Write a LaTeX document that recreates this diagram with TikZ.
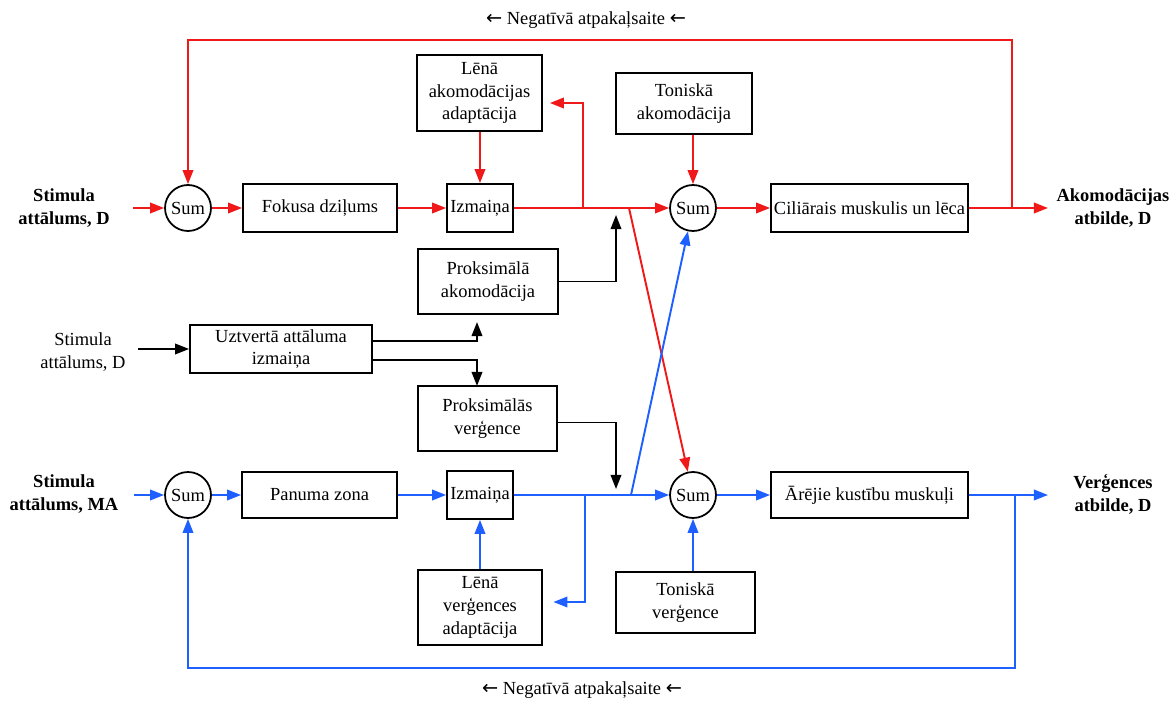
\documentclass[tikz,border=0pt]{standalone}
\usepackage{fontspec}
\setmainfont{Liberation Serif}
\newfontfamily\arrfont{DejaVu Sans}
\usetikzlibrary{arrows.meta,calc}
\definecolor{fbred}{RGB}{240,25,25}
\definecolor{fbblue}{RGB}{30,95,255}
\newcommand\dfont{\fontsize{10.5}{13}\selectfont}
\newcommand\larr{{\arrfont\fontsize{11}{13}\selectfont ←}}
\newcommand\pbox[6]{\node[blockbox,minimum width={(#4-#2)*0.02cm},minimum height={(#5-#3)*0.02cm}] (#1) at ({(#2+#4)/2},{(#3+#5)/2}) {#6};}
\tikzset{
  blockbox/.style={draw,line width=1pt,inner sep=0pt,align=center,font=\dfont},
  sumnode/.style={draw,circle,line width=1pt,minimum size=0.92cm,inner sep=0pt,font=\dfont},
  lbl/.style={align=center,font=\dfont\bfseries,inner sep=1pt},
  plainlbl/.style={align=center,font=\dfont,inner sep=1pt},
  tip/.style={-{Triangle[length=8pt,width=6pt]}},
  ra/.style={draw=fbred,line width=1.1pt,tip},
  ba/.style={draw=fbblue,line width=1.1pt,tip},
  ka/.style={draw=black,line width=1.1pt,tip},
}
\begin{document}
\begin{tikzpicture}[x=0.02cm,y=-0.02cm]
\useasboundingbox (0,0) rectangle (1172,702);
% sums
\node[sumnode] (s1) at (188,208) {Sum};
\node[sumnode] (s2) at (693,208) {Sum};
\node[sumnode] (s3) at (693,495) {Sum};
\node[sumnode] (s4) at (188,495) {Sum};
% boxes
\pbox{fok}{243}{184}{397}{232}{Fokusa dziļums}
\pbox{izm1}{447}{184}{513}{232}{Izmaiņa}
\pbox{lena}{417}{55}{542}{131}{Lēnā\\akomodācijas\\adaptācija}
\pbox{tonak}{616}{73}{752}{134}{Toniskā\\akomodācija}
\pbox{cil}{771}{184}{968}{232}{Ciliārais muskulis un lēca}
\pbox{prak}{418}{249}{558}{314}{Proksimālā\\akomodācija}
\pbox{uzt}{190}{325}{372}{373}{Uztvertā attāluma\\izmaiņa}
\pbox{pv}{418}{386}{557}{451}{Proksimālās\\verģence}
\pbox{pan}{242}{472}{397}{518}{Panuma zona}
\pbox{izm2}{447}{471}{513}{519}{Izmaiņa}
\pbox{lenv}{418}{570}{542}{645}{Lēnā\\verģences\\adaptācija}
\pbox{tonv}{616}{572}{755}{633}{Toniskā\\verģence}
\pbox{are}{771}{472}{968}{518}{Ārējie kustību muskuļi}
% labels
\node[lbl] (l1) at (64,208) {Stimula\\attālums, D};
\node[plainlbl] (l2) at (83,352) {Stimula\\attālums, D};
\node[lbl] (l3) at (64,494) {Stimula\\attālums, MA};
\node[lbl] (r1) at (1113,208) {Akomodācijas\\atbilde, D};
\node[lbl] (r2) at (1113,494) {Verģences\\atbilde, D};
\node[plainlbl] (t1) at (586,20) {\larr{} Negatīvā atpakaļsaite \larr};
\node[plainlbl] (t2) at (582,690) {\larr{} Negatīvā atpakaļsaite \larr};
% coordinates
\coordinate (in1) at (133,208);
\coordinate (in2) at (138,349);
\coordinate (in4) at (134,495);
\coordinate (out1) at (1048,208);
\coordinate (out2) at (1048,495);
\coordinate (j1) at (583,208);
\coordinate (j1t) at (583,103);
\coordinate (j2) at (629,208);
\coordinate (j3) at (1012,208);
\coordinate (fbt) at (600,40);
\coordinate (j4) at (585,495);
\coordinate (j4b) at (585,602);
\coordinate (j5) at (631,495);
\coordinate (j6) at (1015,495);
\coordinate (fbb) at (600,668);
\coordinate (k1) at (616,215);
\coordinate (k2) at (616,489);
\coordinate (u1) at (477,322);
\coordinate (u2) at (477,386);
% red
\draw[ra] (in1) -- (s1);
\draw[ra] (s1) -- (fok);
\draw[ra] (fok) -- (izm1);
\draw[ra] (izm1) -- (s2);
\draw[ra] (j1) |- ([xshift=4pt]lena.east |- j1t);
\draw[ra] (lena.south -| izm1.north) -- (izm1.north);
\draw[ra] (j2) -- (s3);
\draw[ra] (tonak.south -| s2) -- (s2);
\draw[ra] (s2) -- (cil);
\draw[ra] (cil) -- (out1);
\draw[ra] (j3) |- (fbt) -| (s1);
% blue
\draw[ba] (in4) -- (s4);
\draw[ba] (s4) -- (pan);
\draw[ba] (pan) -- (izm2);
\draw[ba] (izm2) -- (s3);
\draw[ba] (j4) |- ([xshift=6pt]lenv.east |- j4b);
\draw[ba] (lenv.north -| izm2.south) -- (izm2.south);
\draw[ba] (j5) -- (s2);
\draw[ba] (tonv.north -| s3) -- (s3);
\draw[ba] (s3) -- (are);
\draw[ba] (are) -- (out2);
\draw[ba] (j6) |- (fbb) -| (s4);
% black
\draw[ka] (in2) -- (uzt);
\draw[ka] ($(uzt.east)+(0,-8)$) -| (u1);
\draw[ka] ($(uzt.east)+(0,11)$) -| (u2);
\draw[ka] (prak.east) -| (k1);
\draw[ka] ($(pv.east)+(0,4)$) -| (k2);
\end{tikzpicture}
\end{document}
